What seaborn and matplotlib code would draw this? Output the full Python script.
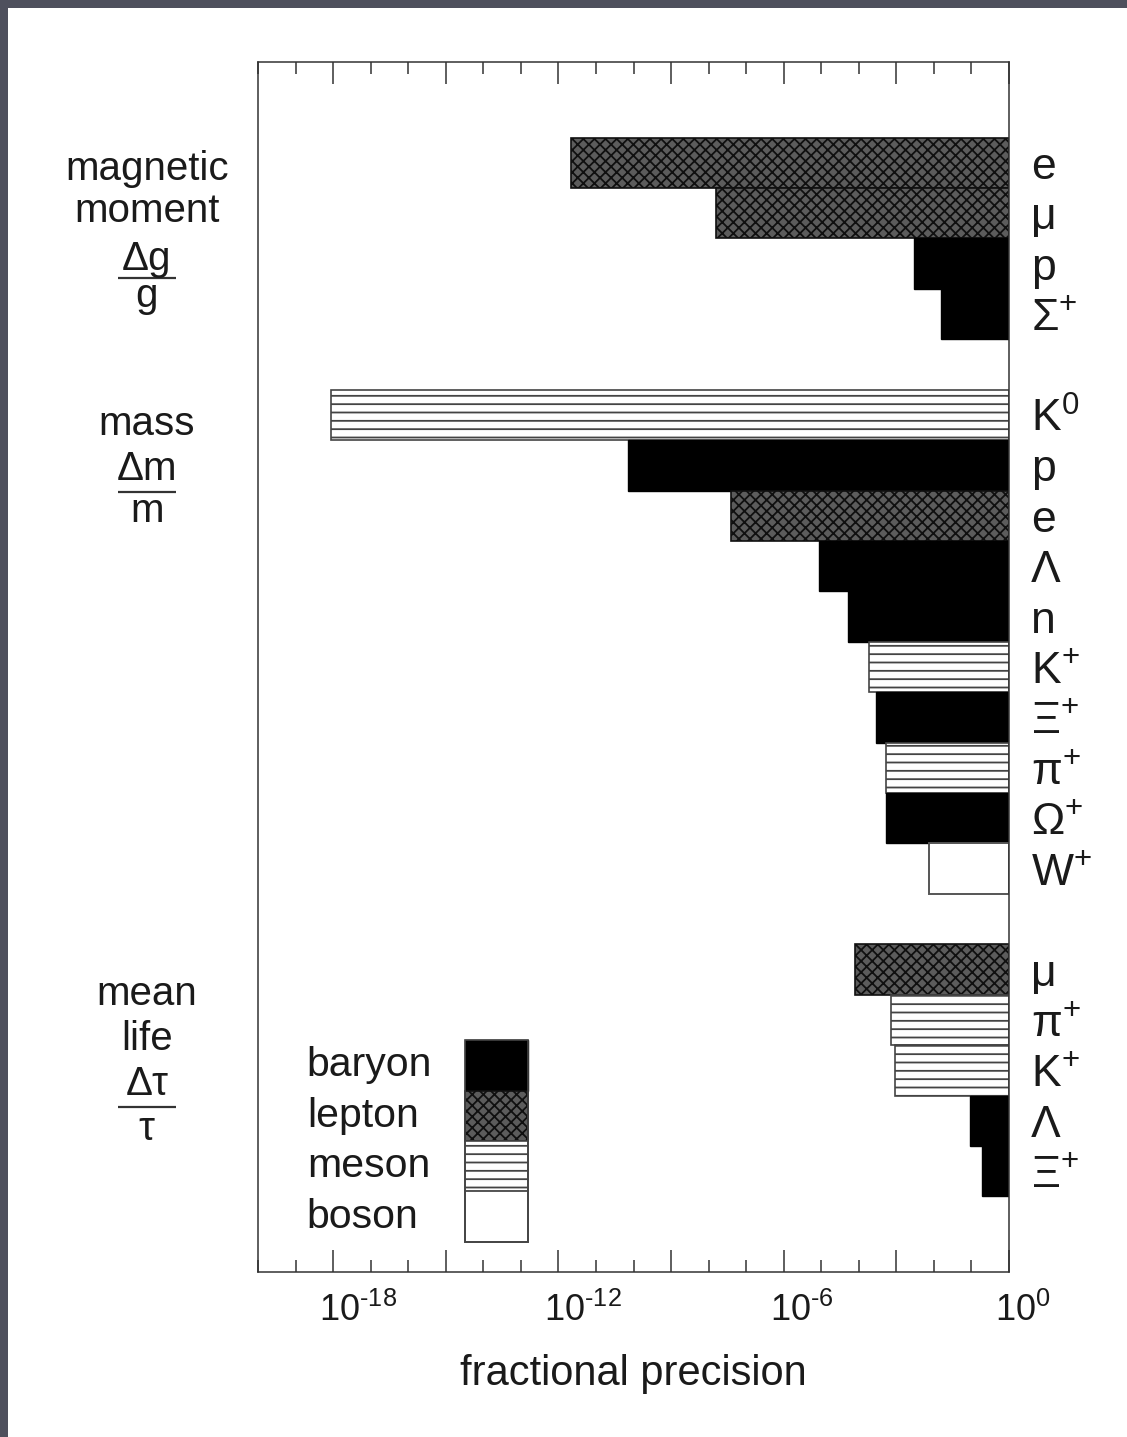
import numpy as np
import pandas as pd
import matplotlib
matplotlib.use("Agg")
import matplotlib.pyplot as plt
from matplotlib.patches import Rectangle
from matplotlib.ticker import FixedLocator
from matplotlib.transforms import ScaledTranslation
import seaborn as sns

# ---------------------------------------------------------------- data
particles = ["e", "μ", "p", "Σ$^{+}$",
             "K$^{0}$", "p", "e", "Λ", "n", "K$^{+}$", "Ξ$^{+}$", "π$^{+}$", "Ω$^{+}$", "W$^{+}$",
             "μ", "π$^{+}$", "K$^{+}$", "Λ", "Ξ$^{+}$"]
quantity = (["magnetic moment"] * 4 + ["mass"] * 10 + ["mean life"] * 5)
family = ["lepton", "lepton", "baryon", "baryon",
          "meson", "baryon", "lepton", "baryon", "baryon", "meson", "baryon", "meson", "baryon", "boson",
          "lepton", "meson", "meson", "baryon", "baryon"]
precision = [2.2e-12, 1.6e-8, 3.0e-3, 1.5e-2,
             9.0e-19, 7.0e-11, 3.9e-8, 8.9e-6, 5.2e-5, 1.9e-4, 2.8e-4, 5.2e-4, 5.2e-4, 7.2e-3,
             7.9e-5, 7.2e-4, 9.1e-4, 9.1e-2, 1.9e-1]

families = ["baryon", "lepton", "meson", "boson"]

# ------------------------------------------------------------- styling
sns.set_theme(style="white")
plt.rcParams["font.family"] = ["Liberation Sans", "DejaVu Sans"]
plt.rcParams["mathtext.fontset"] = "custom"
plt.rcParams["mathtext.rm"] = "Liberation Sans"
plt.rcParams["mathtext.it"] = "Liberation Sans:italic"
plt.rcParams["mathtext.bf"] = "Liberation Sans:bold"
plt.rcParams["hatch.linewidth"] = 1.3

ink = "#1a1a1a"
styles = {
    "baryon": dict(facecolor="black", edgecolor="black", hatch=None, linewidth=1.0),
    "lepton": dict(facecolor="#5c5c5c", edgecolor="#101010", hatch="xxx", linewidth=1.2),
    "meson": dict(facecolor="white", edgecolor="#444444", hatch="--", linewidth=1.2),
    "boson": dict(facecolor="white", edgecolor="#555555", hatch=None, linewidth=1.4),
}

# one blank row between the three measured quantities
rows = []
r = 0
for i, q in enumerate(quantity):
    if i > 0 and q != quantity[i - 1]:
        r += 1
    rows.append(r)
    r += 1
rows = np.array(rows, dtype=float)

df = pd.DataFrame({"row": rows,
                   "decades": -np.log10(precision),
                   "family": family})

W, H, DPI = 1127, 1437, 100
fig = plt.figure(figsize=(W / DPI, H / DPI), dpi=DPI)
fig.patch.set_facecolor("#4e505d")
fig.add_artist(Rectangle((8 / W, 0), 1, 1 - 8 / H, transform=fig.transFigure,
                         facecolor="white", edgecolor="none", zorder=-10))

ax = fig.add_axes([258 / W, 1 - 1272 / H, (1009 - 258) / W, (1272 - 62) / H])
ax.set_facecolor("white")

sns.barplot(data=df, x="decades", y="row", orient="y", native_scale=True,
            width=1.0, errorbar=None, color="black", ax=ax)

for bar in ax.patches:
    yc = bar.get_y() + bar.get_height() / 2
    i = int(np.argmin(np.abs(rows - yc)))
    st = styles[family[i]]
    bar.set_facecolor(st["facecolor"])
    bar.set_edgecolor(st["edgecolor"])
    bar.set_linewidth(st["linewidth"])
    if st["hatch"]:
        bar.set_hatch(st["hatch"])

# precision axis: decades, drawn right-to-left
ax.set_xlim(20, 0)
ax.set_ylim(22, -2)

ax.xaxis.set_major_locator(FixedLocator(list(range(0, 19, 3))))
ax.xaxis.set_minor_locator(FixedLocator(list(range(0, 21))))
labels = []
for d in range(0, 19, 3):
    if d % 6:
        labels.append("")
    elif d == 0:
        labels.append("$10^{0}$")
    else:
        labels.append(r"$10^{\text{-}%d}$" % d)
ax.set_xticklabels(labels, fontsize=26, color=ink)
ax.tick_params(axis="x", which="both", direction="in", top=True, bottom=True,
               color="#333333", width=1.1, pad=15)
ax.tick_params(axis="x", which="major", length=16)
ax.tick_params(axis="x", which="minor", length=8.5)
shift = ScaledTranslation(-14 / DPI, 0, fig.dpi_scale_trans)
for lab in ax.get_xticklabels():
    lab.set_horizontalalignment("left")
    lab.set_transform(lab.get_transform() + shift)

ax.set_xlabel("fractional precision", fontsize=30, color=ink, labelpad=18)
ax.set_ylabel("")

# particle names on the right
ax.set_yticks(rows)
ax.set_yticklabels(particles, fontsize=32, color=ink)
ax.yaxis.tick_right()
ax.tick_params(axis="y", length=0, pad=16)

for s in ax.spines.values():
    s.set_color("#333333")
    s.set_linewidth(1.1)
    s.set_visible(True)

# quantity labels on the left
ytr = ax.get_yaxis_transform()
xc = -0.148
group_text = [
    ("magnetic", 0.34), ("moment", 1.17), ("Δg", 2.13), ("g", 2.85),
    ("mass", 5.40), ("Δm", 6.29), ("m", 7.12),
    ("mean", 16.70), ("life", 17.60), ("Δτ", 18.49), ("τ", 19.39),
]
for txt, y in group_text:
    ax.text(xc, y, txt, transform=ytr, ha="center", va="baseline",
            fontsize=29, color=ink, clip_on=False)
for y in (2.29, 6.53, 18.73):
    ax.plot([-0.186, -0.109], [y, y], transform=ytr, color="#333333",
            lw=1.6, clip_on=False, solid_capstyle="butt")

# legend: stacked swatches with names to the left
sw_x0, sw_w = 12.81, 1.68
for k, fam in enumerate(families):
    y0 = 17.4 + k
    st = styles[fam]
    ax.add_patch(Rectangle((sw_x0, y0), sw_w, 1.0,
                           facecolor=st["facecolor"], edgecolor=st["edgecolor"],
                           hatch=st["hatch"], linewidth=st["linewidth"], zorder=3))
    ax.text(18.70, y0 + 0.5, fam, ha="left", va="center", fontsize=29.5, color=ink)
ax.add_patch(Rectangle((sw_x0, 17.4), sw_w, 4.0, facecolor="none",
                       edgecolor="#444444", linewidth=1.2, zorder=4))

fig.savefig("out.png", dpi=DPI, facecolor=fig.get_facecolor())
